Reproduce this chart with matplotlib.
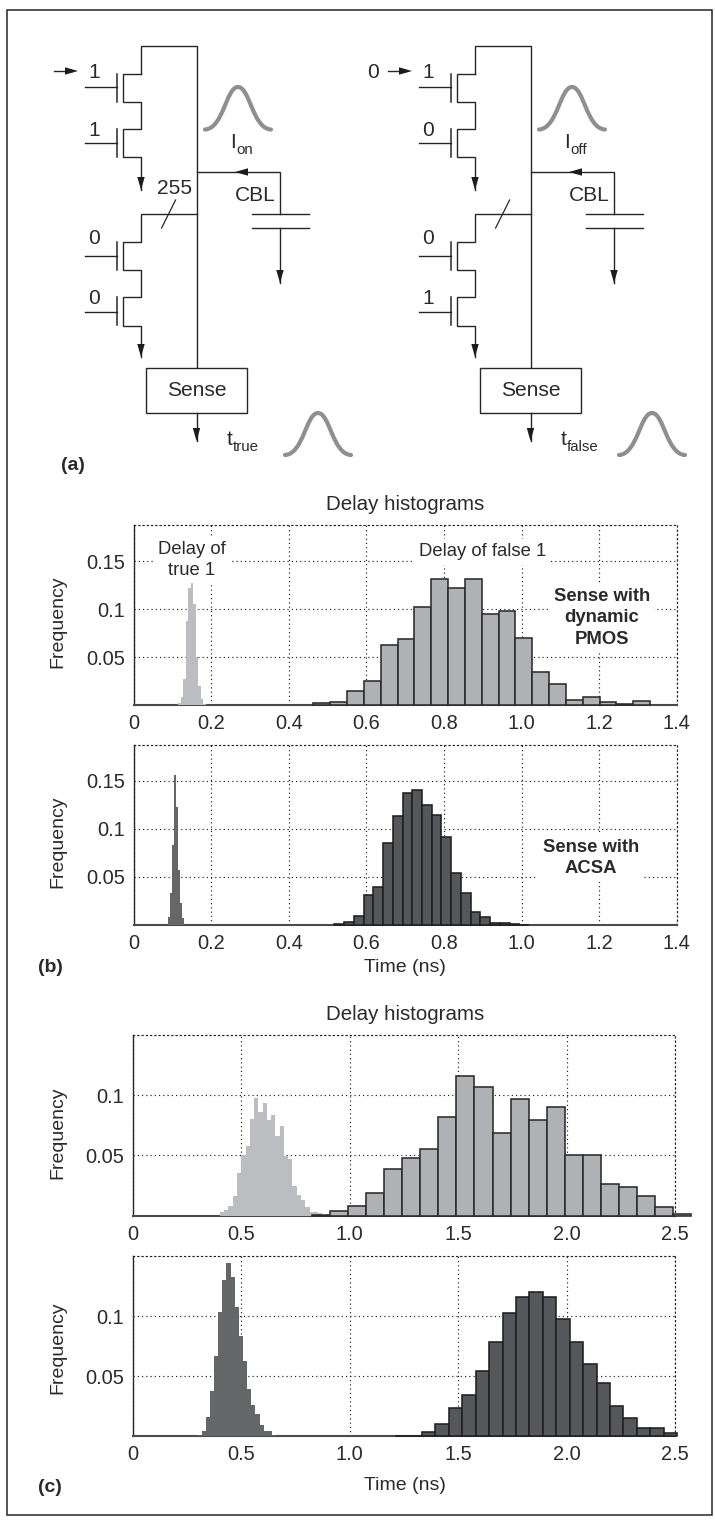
import numpy as np
import matplotlib
matplotlib.use("Agg")
import matplotlib.pyplot as plt
from matplotlib.patches import Polygon, Rectangle, PathPatch
from matplotlib.path import Path

plt.rcParams['font.family'] = ['Liberation Sans', 'DejaVu Sans']

W, H = 715, 1520
TXT = '#2a2a2a'
LINE = '#262626'
PX = 0.72  # points per pixel at dpi 100

# ---------- histogram data ----------
b1_true_start, b1_true_width = 0.1155, 0.0064
b1_true = [.0017, .0087, .027, .088, .122, .127, .105, .05, .02, .006, .0012]
b1_false_start, b1_false_width = 0.4635, 0.0434
b1_false = [.0024, .0035, .0142, .0247, .0625, .0688, .1017, .1316, .1215, .1316,
            .0948, .0976, .0701, .0347, .0219, .0049, .008, .0028, .0014, .0042]

b2_true_start, b2_true_width = 0.0897, 0.0051
b2_true = [.0087, .033, .083, .156, .123, .057, .023, .007]
b2_false_start, b2_false_width = 0.5176, 0.0251
b2_false = [.0007, .0028, .009, .0309, .0392, .0854, .1135, .1375, .141, .1247,
            .1146, .092, .0545, .0337, .0132, .0083, .0024, .0017, .0007, .0003]

c1_true_start, c1_true_width = 0.402, 0.01966
c1_true = [.003, .0047, .008, .0163, .0352, .0504, .0579, .0803, .0978, .0861, .0936, .0795,
           .0837, .0662, .0745, .0496, .0471, .0247, .0172, .013, .0069, .003, .003, .0019]
c1_false_start, c1_false_width = 0.825, 0.0833
c1_false = [.0006, .0036, .0083, .0191, .039, .0476, .0551, .0817, .1163, .1072, .0684,
            .0972, .0795, .0906, .0507, .0507, .0263, .0235, .0166, .0069, .0014]

c2_true_start, c2_true_width = 0.2795, 0.01905
c2_true = [.0003, .0011, .0044, .0161, .0377, .0668, .1033, .1299, .144, .1324, .1075,
           .0834, .0626, .0393, .026, .0186, .0094, .0044, .0044, .0011, .0006, .0006]
c2_false_start, c2_false_width = 1.2088, 0.0619
c2_false = [.0003, .0006, .0033, .01, .0233, .0346, .054, .0787, .1025, .1158, .1197,
            .1158, .0978, .0787, .0604, .0446, .0255, .015, .0066, .0072, .0025]

b_xticks = [0, 0.2, 0.4, 0.6, 0.8, 1.0, 1.2, 1.4]
b_xlabels = ['0', '0.2', '0.4', '0.6', '0.8', '1.0', '1.2', '1.4']
b_yticks = [0.05, 0.1, 0.15]
b_ylabels = ['0.05', '0.1', '0.15']
c_xticks = [0, 0.5, 1.0, 1.5, 2.0, 2.5]
c_xlabels = ['0', '0.5', '1.0', '1.5', '2.0', '2.5']
c_yticks = [0.05, 0.1]
c_ylabels = ['0.05', '0.1']

FALSE_LIGHT, TRUE_LIGHT = '#b0b1b4', '#bcbdc0'
FALSE_DARK, TRUE_DARK = '#55575a', '#656668'

fig = plt.figure(figsize=(W / 100, H / 100), dpi=100, facecolor='white')

# overlay in image pixel coordinates
ov = fig.add_axes([0, 0, 1, 1], zorder=5)
ov.set_xlim(0, W)
ov.set_ylim(H, 0)
ov.axis('off')
ov.patch.set_alpha(0)


def panel(box, xlim, ylim, xticks, xlabels, yticks, ylabels):
    l, t, r, b = box
    ax = fig.add_axes([l / W, 1 - b / H, (r - l) / W, (b - t) / H], zorder=2)
    ax.set_xlim(*xlim)
    ax.set_ylim(*ylim)
    ax.set_xticks(xticks, xlabels)
    ax.set_yticks(yticks, ylabels)
    ax.tick_params(length=0, labelsize=14.4, labelcolor=TXT)
    ax.tick_params(axis='x', pad=6.5)
    ax.tick_params(axis='y', pad=6)
    ax.grid(True, color='#222222', linestyle=(0, (1, 2.6)), linewidth=0.85, zorder=1)
    ax.set_axisbelow(True)
    for s in ('top', 'right'):
        ax.spines[s].set_linestyle((0, (1, 2.6)))
        ax.spines[s].set_linewidth(0.85)
        ax.spines[s].set_color('#222222')
    ax.spines['left'].set_color(LINE)
    ax.spines['left'].set_linewidth(1.0)
    ax.spines['bottom'].set_color('#4a4a4a')
    ax.spines['bottom'].set_linewidth(1.5)
    return ax


def bars(ax, start, width, heights, face, edge=None):
    edges = start + width * np.arange(len(heights))
    if edge:
        ax.bar(edges, heights, width=width, align='edge', color=face, edgecolor=edge,
               linewidth=1.15, zorder=3, clip_on=False)
    else:
        # borderless bars: pixel-snapped so neighbours leave no seams
        ax.bar(edges, heights, width=width, align='edge', color=face, edgecolor=face,
               linewidth=0, antialiased=False, zorder=3, clip_on=False)


ax1 = panel((133.5, 525, 676.7, 705), (0, 1.4), (0, 0.1875), b_xticks, b_xlabels, b_yticks, b_ylabels)
bars(ax1, b1_true_start, b1_true_width, b1_true, TRUE_LIGHT)
bars(ax1, b1_false_start, b1_false_width, b1_false, FALSE_LIGHT, '#2b2b2b')

ax2 = panel((133.5, 745, 676.7, 925), (0, 1.4), (0, 0.1875), b_xticks, b_xlabels, b_yticks, b_ylabels)
bars(ax2, b2_true_start, b2_true_width, b2_true, TRUE_DARK)
bars(ax2, b2_false_start, b2_false_width, b2_false, FALSE_DARK, '#1f1f1f')

ax3 = panel((132.7, 1035, 675.3, 1215.7), (0, 2.5), (0, 0.15), c_xticks, c_xlabels, c_yticks, c_ylabels)
bars(ax3, c1_true_start, c1_true_width, c1_true, TRUE_LIGHT)
bars(ax3, c1_false_start, c1_false_width, c1_false, FALSE_LIGHT, '#2b2b2b')

ax4 = panel((132.7, 1256, 675.3, 1436.3), (0, 2.5), (0, 0.15), c_xticks, c_xlabels, c_yticks, c_ylabels)
bars(ax4, c2_true_start, c2_true_width, c2_true, TRUE_DARK)
bars(ax4, c2_false_start, c2_false_width, c2_false, FALSE_DARK, '#1f1f1f')


def T(x, y, s, size=21, weight='normal', rot=0, ha='center', va='center', bg=False, ls=1.15):
    kw = {}
    if bg:
        kw['bbox'] = dict(facecolor='white', edgecolor='none', pad=3)
    ov.text(x, y, s, fontsize=size * PX, fontweight=weight, rotation=rot, ha=ha, va=va,
            color=TXT, linespacing=ls, zorder=6, **kw)


# axis text
T(405, 505, 'Delay histograms', 20.5)
T(405, 1014, 'Delay histograms', 20.5)
for yc in (622, 842, 1133, 1348):
    T(58, yc, 'Frequency', 19.5, rot=90)
T(405, 967, 'Time (ns)', 19.5)
T(405, 1486, 'Time (ns)', 19.5)
T(73, 465, '(a)', 19.5, 'bold')
T(50, 967, '(b)', 19.5, 'bold')
T(50, 1488, '(c)', 19.5, 'bold')

# annotations
T(191.5, 560, 'Delay of\ntrue 1', 18.5, bg=True, ls=1.28)
T(482.7, 552, 'Delay of false 1', 18.5, bg=True)
T(601.7, 618, 'Sense with\ndynamic\nPMOS', 18.5, 'bold', bg=True, ls=1.35)
T(590.7, 858, 'Sense with\nACSA', 18.5, 'bold', bg=True, ls=1.35)

# ---------- circuit schematics ----------
LW = 1.0


def wire(xs, ys, lw=LW):
    ov.plot(xs, ys, color=LINE, lw=lw, solid_capstyle='projecting', solid_joinstyle='miter', zorder=4)


def head(x, y, dx, dy, L=13, w=3.7):
    nx, ny = -dy, dx
    ov.add_patch(Polygon([(x, y), (x - dx * L + nx * w, y - dy * L + ny * w),
                          (x - dx * L - nx * w, y - dy * L - ny * w)],
                         closed=True, fc='#1c1c1c', ec='none', zorder=4))


def bell(x0, x1, ytop, ybot):
    m = (x0 + x1) / 2
    w = x1 - x0
    verts = [(x0, ybot), (x0 + 0.28 * w, ybot - 1), (x0 + 0.32 * w, ytop), (m, ytop),
             (x1 - 0.32 * w, ytop), (x1 - 0.28 * w, ybot - 1), (x1, ybot)]
    codes = [Path.MOVETO] + [Path.CURVE4] * 6
    ov.add_patch(PathPatch(Path(verts, codes), fc='none', ec='#8f8f90', lw=3.0,
                           capstyle='round', zorder=4))


def circuit(o, labels, in_text, show255, on_main, on_sub, t_sub):
    # rails
    wire([141 + o, 141 + o, 196.5 + o, 196.5 + o], [73.5, 45.5, 45.5, 367.5])
    # upper pair
    wire(np.array([141, 122.5, 122.5, 141, 141, 122.5, 122.5, 141, 141]) + o,
         [73.5, 73.5, 101.5, 101.5, 129, 129, 157, 157, 190])
    head(141 + o, 190, 0, 1)
    # lower pair
    wire(np.array([196.5, 141, 141, 122.5, 122.5, 141, 141, 122.5, 122.5, 141, 141]) + o,
         [214, 214, 241.5, 241.5, 269.5, 269.5, 297, 297, 325.5, 325.5, 357])
    head(141 + o, 357, 0, 1)
    # gates
    for yb, yg, lab, ylab in zip([73.5, 129, 241.5, 297], [87, 143, 255.5, 311.5],
                                 labels, [72, 130, 239, 299]):
        wire([117 + o, 117 + o], [yb, yb + 28], lw=1.1)
        wire([85 + o, 117 + o], [yg, yg])
        T(94 + o, ylab, lab)
    # bus slash
    wire([161.6 + o, 175.6 + o], [228, 200], lw=0.9)
    if show255:
        T(175 + o, 188, '255')
    # input arrow
    wire([54 + o, 72 + o], [71, 71])
    head(78 + o, 71, 1, 0)
    if in_text:
        T(39 + o, 72, in_text)
    # capacitor
    wire([196.5 + o, 280 + o, 280 + o], [172, 172, 214])
    head(235 + o, 172, -1, 0)
    wire([252 + o, 308.5 + o], [214, 214])
    wire([252 + o, 308.5 + o], [228, 228])
    wire([280 + o, 280 + o], [228, 283])
    head(280 + o, 283, 0, 1)
    T(255.5 + o, 195.5, 'CBL')
    # sense block
    ov.add_patch(Rectangle((145.5 + o, 367.5), 101.5, 45.5, fc='white', ec=LINE, lw=LW, zorder=4))
    T(196.3 + o, 390, 'Sense', 21)
    wire([196.5 + o, 196.5 + o], [413, 441])
    head(196.5 + o, 441, 0, 1)
    # current and time labels
    T(232.5 + o, 148, on_main, ha='center', va='baseline')
    T(236 + o, 154, on_sub, 15, ha='left', va='baseline')
    T(230 + o, 445, 't', ha='center', va='baseline')
    T(233 + o, 451, t_sub, 15, ha='left', va='baseline')
    # distribution sketches
    bell(205 + o, 271 + o, 87, 129.5)
    bell(285 + o, 351 + o, 413, 455)


circuit(0, ['1', '1', '0', '0'], '', True, 'I', 'on', 'true')
circuit(334, ['1', '0', '0', '1'], '0', False, 'I', 'off', 'false')

# outer frame
ov.add_patch(Rectangle((7.3, 10), 705, 1505, fc='none', ec=LINE, lw=1.1, zorder=1))

fig.savefig('out.png', dpi=100, facecolor='white')
